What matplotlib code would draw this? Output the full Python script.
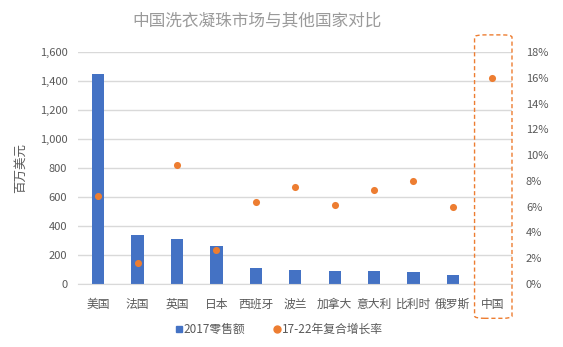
import matplotlib
matplotlib.use("Agg")
import matplotlib.pyplot as plt
from matplotlib.patches import FancyBboxPatch
from matplotlib.lines import Line2D
from matplotlib.ticker import FuncFormatter, MultipleLocator
import matplotlib.transforms as mtransforms

plt.rcParams['font.family'] = ['Noto Sans CJK SC', 'DejaVu Sans']

countries = ["美国", "法国", "英国", "日本", "西班牙", "波兰", "加拿大", "意大利", "比利时", "俄罗斯", "中国"]
sales_2017 = [1450, 338, 310, 262, 110, 95, 88, 87, 82, 62, None]
cagr_17_22 = [6.8, 1.6, 9.2, 2.6, 6.4, 7.5, 6.1, 7.3, 8.0, 6.0, 16.0]

bar_color = "#4472C4"
dot_color = "#ED7D31"
text_color = "#595959"
grid_color = "#D9D9D9"

fig = plt.figure(figsize=(5.63, 3.47), dpi=100)
ax = fig.add_axes([0.1394, 0.1816, 0.7700, 0.6684])
ax2 = ax.twinx()

x = list(range(len(countries)))
bx = [i for i, v in zip(x, sales_2017) if v is not None]
bv = [v for v in sales_2017 if v is not None]
ax.bar(bx, bv, width=0.31, color=bar_color, zorder=2)
ax2.scatter(x, cagr_17_22, s=26, color=dot_color, zorder=3, linewidths=0)

ax.set_xlim(-0.5, len(countries) - 0.5)
ax.set_ylim(0, 1600)
ax.yaxis.set_major_locator(MultipleLocator(200))
ax.yaxis.set_major_formatter(FuncFormatter(lambda v, p: f"{int(v):,}"))
ax2.set_ylim(0, 18)
ax2.yaxis.set_major_locator(MultipleLocator(2))
ax2.yaxis.set_major_formatter(FuncFormatter(lambda v, p: f"{int(v)}%"))

ax.set_xticks(x)
ax.set_xticklabels(countries, fontsize=8.5, color=text_color)
ax.grid(axis="y", color=grid_color, linewidth=1, zorder=0)
ax.set_axisbelow(True)

for a in (ax, ax2):
    for s in a.spines.values():
        s.set_visible(False)
ax.spines["bottom"].set_visible(True)
ax.spines["bottom"].set_color(grid_color)

ax.tick_params(axis="both", length=0)
ax.tick_params(axis="y", labelsize=8, labelcolor=text_color, pad=8)
ax.tick_params(axis="x", pad=10)
ax2.tick_params(axis="y", length=0, labelsize=8, labelcolor=text_color, pad=10)

ax.set_ylabel("百万美元", fontsize=9, color=text_color, labelpad=9)

fig.text(0.456, 0.94, "中国洗衣凝珠市场与其他国家对比", ha="center", va="center",
         fontsize=12, color="#9A9A9A")

# dashed frame highlighting China
trans = mtransforms.blended_transform_factory(ax.transData, ax.transAxes)
box = FancyBboxPatch((9.55, -0.148), 0.95, 1.222, boxstyle="round,pad=0,rounding_size=0.25",
                     transform=trans, fill=False, edgecolor=dot_color,
                     linestyle=(0, (3, 2)), linewidth=1, clip_on=False, zorder=4,
                     mutation_aspect=0.04)
ax.add_patch(box)

handles = [Line2D([], [], marker="s", linestyle="none", color=bar_color, markersize=5),
           Line2D([], [], marker="o", linestyle="none", color=dot_color, markersize=5)]
fig.legend(handles, ["2017零售额", "17-22年复合增长率"], loc="center",
           bbox_to_anchor=(0.493, 0.05), ncol=2, frameon=False, fontsize=8.5,
           labelcolor=text_color, handletextpad=-0.1, columnspacing=2.2, handlelength=1.0)

fig.savefig("out.png", dpi=100)
